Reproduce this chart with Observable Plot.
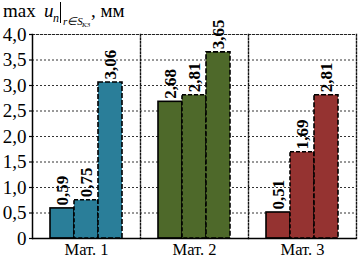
<!DOCTYPE html>
<html>
<head>
<meta charset="utf-8">
<script src="https://cdn.jsdelivr.net/npm/d3@7"></script>
<script src="https://cdn.jsdelivr.net/npm/@observablehq/plot@0.6"></script>
<style>
  html, body { margin: 0; padding: 0; background: #fff; }
  #wrap { position: relative; width: 358px; height: 264px; overflow: hidden; }
  #title { position: absolute; left: 3px; top: 0; height: 30px; width: 200px; z-index: 2;
           font-family: "Liberation Serif", "Times New Roman", serif; font-size: 19px; line-height: 22px; color: #000; }
  #title span { position: absolute; white-space: nowrap; }
</style>
</head>
<body>
<div id="wrap">
  <div id="title">
    <span style="left:0px; top:0px;">max</span>
    <span style="left:41px; top:0px; font-style:italic;">u</span>
    <span style="left:50px; top:7px; font-style:italic; font-size:12px;">n</span>
    <span style="left:57px; top:2px; width:0; height:21px; border-left:1.3px solid #000;"></span>
    <span style="left:60px; top:10px; font-style:italic; font-size:11px;">r∈S</span>
    <span style="left:79px; top:14px; font-style:italic; font-size:7px;">K3</span>
    <span style="left:88px; top:0px;">, мм</span>
  </div>
  <div id="chart"></div>
</div>
<script>
const groups = ["Мат. 1", "Мат. 2", "Мат. 3"];
const barKeys = ["1", "2", "3"];
const mat1 = [0.59, 0.75, 3.06];
const mat2 = [2.68, 2.81, 3.65];
const mat3 = [0.51, 1.69, 2.81];
const groupColors = ["#2a7e99", "#4e692a", "#953331"];
const yTicks = [0, 0.5, 1, 1.5, 2, 2.5, 3, 3.5, 4];

const seriesByGroup = [mat1, mat2, mat3];
const rows = [];
groups.forEach((g, gi) => {
  seriesByGroup[gi].forEach((v, bi) => {
    rows.push({group: g, bar: barKeys[bi], value: v, label: v.toFixed(2).replace(".", ",")});
  });
});

const serif = "'Liberation Serif', 'Times New Roman', serif";
const fmt = d => d === 0 ? "0" : d.toFixed(1).replace(".", ",");
const barStyles = [
  {stroke: "#000", strokeWidth: 1.6},
  {stroke: "#000", strokeWidth: 1.6, strokeDasharray: "4,2"},
  {stroke: "#000", strokeWidth: 1.6, strokeDasharray: "5,2"}
];

const chart = Plot.plot({
  width: 358,
  height: 264,
  marginTop: 34,
  marginBottom: 26,
  marginLeft: 32,
  marginRight: 2,
  style: {fontFamily: serif, fontSize: "17px", color: "#000", background: "#fff"},
  fx: {domain: groups, padding: 0, label: null},
  x: {domain: barKeys, paddingInner: 0, paddingOuter: 0.72, axis: null},
  y: {domain: [0, 4], label: null},
  color: {domain: groups, range: groupColors},
  marks: [
    Plot.ruleY(yTicks.filter(d => d > 0 && d < 4), {stroke: "#333", strokeWidth: 1, strokeDasharray: "2,2"}),
    Plot.frame({anchor: "top", stroke: "#222", strokeWidth: 1.2, strokeDasharray: "2,2"}),
    Plot.frame({anchor: "right", stroke: "#111", strokeWidth: 1.4, strokeDasharray: "1.5,2"}),
    ...barKeys.map((k, i) => Plot.barY(rows.filter(r => r.bar === k), {
      fx: "group", x: "bar", y: "value", fill: "group", inset: 0, ...barStyles[i]
    })),
    Plot.text(rows, {
      fx: "group", x: "bar", y: "value", text: "label", rotate: -90,
      textAnchor: "start", lineAnchor: "middle", dy: -3, dx: 0,
      fontFamily: serif, fontWeight: "bold", fontSize: 17, fill: "#000"
    }),
    Plot.axisY({ticks: yTicks, tickFormat: fmt, tickSize: 3, tickPadding: 3, label: null,
      fontSize: 19, fontFamily: serif, stroke: "#000", strokeWidth: 1.2}),
    Plot.frame({anchor: "left", facetAnchor: "left", stroke: "#000", strokeWidth: 1.5}),
    Plot.axisFx({anchor: "bottom", tickSize: 0, tickPadding: 5, label: null, fontSize: 16.5, fontFamily: serif}),
    Plot.ruleY([0], {stroke: "#000", strokeWidth: 1.5})
  ]
});
document.getElementById("chart").appendChild(chart);
</script>
</body>
</html>
